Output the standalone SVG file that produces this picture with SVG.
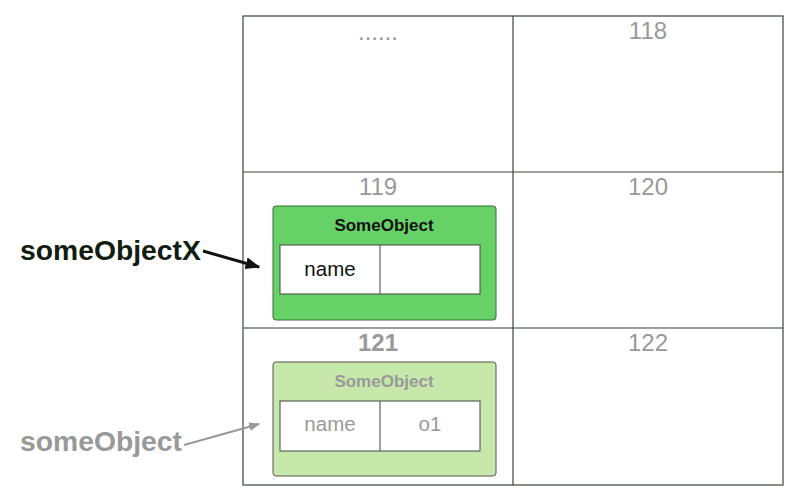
<svg xmlns="http://www.w3.org/2000/svg" width="800" height="502" viewBox="0 0 800 502">
<style>
.grid{fill:none;stroke:#3a443a;stroke-width:1.2}
.cell{font-family:"Liberation Sans",Arial,sans-serif;font-size:24px;fill:#999;text-anchor:middle}
.title{font-family:"Liberation Sans",Arial,sans-serif;font-size:17px;font-weight:bold;text-anchor:middle}
.field{font-family:"Liberation Sans",Arial,sans-serif;font-size:20.5px;text-anchor:middle}
.tbl{fill:#fff;stroke:#444;stroke-width:1}
.var{font-family:"Liberation Sans",Arial,sans-serif;font-size:28.3px;font-weight:bold}
</style>
<defs>
<marker id="ah" viewBox="0 0 10 10" refX="9" refY="5" markerWidth="5" markerHeight="5" orient="auto" markerUnits="strokeWidth"><path d="M0,1 L10,5 L0,9 z" fill="#111"/></marker>
<marker id="ahg" viewBox="0 0 10 10" refX="9" refY="5" markerWidth="5" markerHeight="5" orient="auto" markerUnits="strokeWidth"><path d="M0,1 L10,5 L0,9 z" fill="#999"/></marker>
</defs>
<g id="memory">
<rect class="grid" x="243" y="16" width="540" height="469"/>
<line class="grid" x1="513" y1="16" x2="513" y2="485"/>
<line class="grid" x1="243" y1="172" x2="783" y2="172"/>
<line class="grid" x1="243" y1="328" x2="783" y2="328"/>
<text class="cell" x="378" y="40">......</text>
<text class="cell" x="648" y="39">118</text>
<text class="cell" x="378" y="195">119</text>
<text class="cell" x="648" y="195">120</text>
<text class="cell" x="378" y="351" font-weight="bold">121</text>
<text class="cell" x="648" y="351">122</text>
</g>
<g id="objX">
<rect x="273" y="206" width="223" height="114" rx="3" fill="#66d166" stroke="#3a6a3a" stroke-width="1"/>
<text class="title" x="384" y="231" fill="#111">SomeObject</text>
<rect class="tbl" x="280" y="245" width="200" height="49"/>
<line x1="380" y1="245" x2="380" y2="294" stroke="#444"/>
<text class="field" x="330" y="276" fill="#111">name</text>
</g>
<g id="obj">
<rect x="273" y="362" width="223" height="114" rx="3" fill="#c6e8aa" stroke="#555" stroke-width="1"/>
<text class="title" x="384" y="387" fill="#999">SomeObject</text>
<rect class="tbl" x="280" y="401" width="200" height="50"/>
<line x1="380" y1="401" x2="380" y2="451" stroke="#444"/>
<text class="field" x="330" y="431" fill="#999">name</text>
<text class="field" x="430" y="431" fill="#999">o1</text>
</g>
<g id="varX"><text class="var" x="20" y="260" fill="#111d11">someObjectX</text></g>
<g id="var"><text class="var" x="20" y="451" fill="#999">someObject</text></g>
<g id="connectors">
<line x1="203" y1="251" x2="259" y2="267" stroke="#111" stroke-width="3" marker-end="url(#ah)"/>
<line x1="184" y1="445" x2="259" y2="424" stroke="#999" stroke-width="2.2" marker-end="url(#ahg)"/>
</g>
</svg>
